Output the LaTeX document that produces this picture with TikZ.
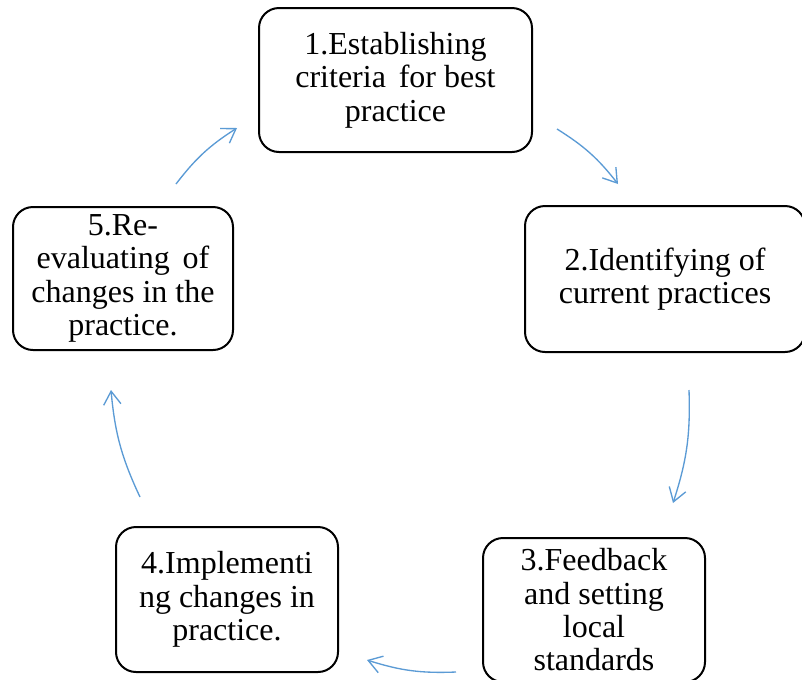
\documentclass[tikz,border=0pt]{standalone}
\usepackage{fontspec}
\setmainfont{Liberation Serif}
\usetikzlibrary{arrows.meta}
\definecolor{arrowblue}{RGB}{91,155,213}
\begin{document}
\begin{tikzpicture}[x=0.75pt,y=-0.75pt,
  box/.style={draw=black, line width=1.5pt, rounded corners=15pt, align=center,
    font=\fontsize{24}{25}\selectfont, inner sep=0pt, fill=white},
  cyc/.style={draw=arrowblue, line width=1pt, -{Straight Barb[length=10pt,width=13pt]}}]
\clip (0,0) rectangle (802,679);
\fill[white] (0,0) rectangle (802,679);
\node[box, minimum width=204.75pt, minimum height=108pt] (b1) at (395.5,80) {1.Establishing\\criteria\hspace{0.15em} for best\\practice};
\node[box, minimum width=210pt, minimum height=109.5pt] (b2) at (665,279) {2.Identifying of\\current practices};
\node[box, minimum width=166.5pt, minimum height=108pt] (b3) at (594,610) {3.Feedback\\and setting\\local\\standards};
\node[box, minimum width=166.5pt, minimum height=108.75pt] (b4) at (227,599.5) {4.Implementi\\ng changes in\\practice.};
\node[box, minimum width=165pt, minimum height=107.25pt] (b5) at (123,278.5) {5.Re-\\evaluating\hspace{0.15em} of\\changes in the\\practice.};
\coordinate (a12s) at (557,129);
\coordinate (a12e) at (618,184);
\coordinate (a23s) at (689,390);
\coordinate (a23e) at (673,503);
\coordinate (a34s) at (456,672);
\coordinate (a34e) at (367,660);
\coordinate (a45s) at (140,497);
\coordinate (a45e) at (111,390);
\coordinate (a51s) at (176,184);
\coordinate (a51e) at (237,128);
\draw[cyc] (a12s) to[bend left=10] (a12e);
\draw[cyc] (a23s) to[bend left=10] (a23e);
\draw[cyc] (a34s) to[bend left=10] (a34e);
\draw[cyc] (a45s) to[bend left=10] (a45e);
\draw[cyc] (a51s) to[bend left=10] (a51e);
\end{tikzpicture}
\end{document}
